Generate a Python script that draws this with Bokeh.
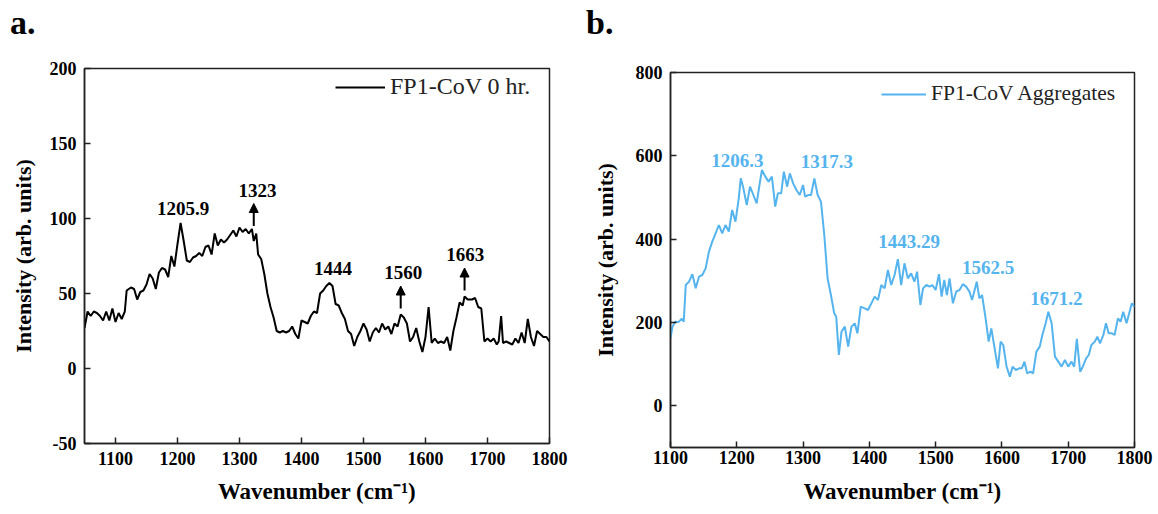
from bokeh.plotting import figure
from bokeh.models import Label, Arrow, NormalHead, FixedTicker, Range1d, Div
from bokeh.layouts import row, column
from bokeh.embed import file_html
from bokeh.resources import INLINE

# ---------------- data: panel a (FP1-CoV 0 hr.) ----------------
wn_a = [1050, 1055, 1060, 1065, 1070, 1075, 1080, 1085, 1090, 1095, 1100, 1105, 1110, 1115,
        1118, 1125, 1130, 1135, 1140, 1145, 1150, 1155, 1160, 1165, 1170, 1175, 1180, 1185,
        1190, 1195, 1200, 1205, 1210, 1215, 1220, 1225, 1230, 1235, 1240, 1245, 1250, 1255,
        1260, 1265, 1270, 1275, 1280, 1285, 1290, 1295, 1300, 1305, 1310, 1315, 1320, 1323,
        1327, 1330, 1335, 1340, 1345, 1350, 1355, 1360, 1365, 1370, 1375, 1380, 1385, 1390,
        1395, 1400, 1405, 1410, 1415, 1420, 1425, 1430, 1435, 1440, 1445, 1450, 1455, 1460,
        1465, 1470, 1475, 1480, 1485, 1490, 1495, 1500, 1505, 1510, 1515, 1520, 1525, 1530,
        1535, 1540, 1545, 1550, 1555, 1560, 1565, 1570, 1575, 1580, 1585, 1590, 1595, 1600,
        1605, 1610, 1615, 1620, 1625, 1630, 1635, 1640, 1645, 1650, 1655, 1660, 1663, 1668,
        1675, 1680, 1685, 1690, 1695, 1700, 1705, 1710, 1715, 1718, 1722, 1725, 1730, 1735,
        1740, 1745, 1750, 1755, 1760, 1765, 1770, 1775, 1780, 1785, 1790, 1795, 1800]
int_a = [27, 38, 35, 38, 37, 35, 32, 38, 32, 40, 31, 37, 33, 38,
         52, 54, 53, 46, 51, 52, 56, 63, 60, 53, 64, 67, 66, 61,
         75, 68, 83, 97, 85, 72, 71, 74, 75, 77, 75, 81, 82, 76,
         90, 82, 86, 84, 86, 89, 92, 88, 94, 91, 93, 90, 93, 85,
         90, 76, 73, 63, 50, 41, 34, 25, 24, 25, 24, 25, 28, 23,
         20, 32, 31, 30, 35, 38, 37, 50, 52, 55, 57, 55, 43, 42,
         37, 33, 25, 23, 15, 21, 25, 30, 26, 18, 24, 27, 24, 30,
         26, 28, 23, 30, 28, 36, 34, 30, 18, 21, 27, 18, 11, 21,
         41, 17, 20, 17, 18, 17, 21, 12, 25, 34, 44, 42, 48, 46,
         46, 47, 41, 40, 18, 20, 18, 20, 16, 18, 35, 17, 18, 17,
         16, 20, 17, 24, 17, 33, 21, 15, 25, 23, 21, 21, 18]

peaks_a = ["1205.9", "1323", "1444", "1560", "1663"]
peak_lx_a = [1209, 1329, 1451, 1564, 1664]
peak_ly_a = [107, 119, 67, 64, 76]
arrow_x_a = [1323, 1560, 1663]
arrow_y0_a = [95, 40, 52]
arrow_y1_a = [110, 55, 67]

# ---------------- data: panel b (FP1-CoV Aggregates) ----------------
wn_b = [1100, 1103, 1107, 1112, 1117, 1120, 1123, 1128, 1133, 1138, 1143, 1148, 1153, 1158,
        1163, 1168, 1173, 1178, 1183, 1188, 1193, 1198, 1203, 1206, 1210, 1215, 1220, 1225,
        1230, 1235, 1238, 1243, 1248, 1253, 1258, 1262, 1267, 1271, 1276, 1280, 1285, 1290,
        1295, 1300, 1303, 1308, 1312, 1317, 1322, 1327, 1332, 1337, 1342, 1347, 1350, 1354,
        1358, 1363, 1368, 1373, 1378, 1382, 1387, 1393, 1398, 1403, 1408, 1413, 1418, 1423,
        1428, 1433, 1438, 1443, 1448, 1453, 1458, 1463, 1468, 1472, 1477, 1481, 1486, 1491,
        1495, 1500, 1505, 1509, 1513, 1517, 1521, 1526, 1531, 1536, 1541, 1546, 1551, 1555,
        1562, 1566, 1570, 1575, 1580, 1584, 1589, 1594, 1598, 1602, 1607, 1612, 1616, 1621,
        1626, 1630, 1634, 1638, 1643, 1647, 1652, 1657, 1661, 1666, 1670, 1675, 1680, 1685,
        1690, 1695, 1700, 1705, 1709, 1713, 1718, 1722, 1727, 1731, 1735, 1740, 1744, 1748,
        1753, 1757, 1761, 1766, 1770, 1775, 1779, 1783, 1788, 1792, 1796, 1800]
int_b = [162, 190, 202, 201, 209, 202, 290, 298, 316, 282, 310, 314, 330, 370,
         394, 414, 434, 414, 434, 418, 470, 442, 498, 546, 522, 482, 526, 506,
         486, 538, 566, 550, 538, 550, 478, 510, 510, 562, 526, 558, 534, 518,
         506, 530, 502, 506, 506, 546, 506, 490, 410, 306, 266, 222, 214, 122,
         178, 190, 142, 190, 198, 174, 238, 234, 230, 246, 262, 254, 290, 282,
         326, 290, 314, 352, 290, 342, 306, 318, 298, 322, 242, 282, 290, 286,
         290, 278, 316, 262, 302, 266, 306, 246, 274, 278, 292, 286, 274, 254,
         298, 258, 266, 214, 154, 186, 138, 90, 154, 146, 94, 70, 94, 86,
         90, 90, 106, 78, 82, 78, 130, 142, 170, 198, 226, 198, 118, 106,
         94, 110, 94, 106, 94, 161, 82, 94, 114, 122, 146, 154, 166, 150,
         170, 198, 174, 174, 170, 210, 202, 226, 198, 222, 246, 238]

peaks_b = ["1206.3", "1317.3", "1443.29", "1562.5", "1671.2"]
peak_lx_b = [1201, 1336, 1460, 1579, 1682]
peak_ly_b = [589, 586, 394, 332, 258]

FONT = "Liberation Serif"
BLUE = "#55B4EE"


def style(p, yticks, tick_so, label_so):
    p.outline_line_color = "#222222"
    p.outline_line_width = 1.5
    p.xgrid.visible = False
    p.ygrid.visible = False
    p.xaxis.ticker = FixedTicker(ticks=[1100, 1200, 1300, 1400, 1500, 1600, 1700, 1800])
    p.yaxis.ticker = FixedTicker(ticks=yticks)
    for ax in (p.xaxis[0], p.yaxis[0]):
        ax.axis_line_color = "#222222"
        ax.axis_line_width = 1.5
        ax.major_tick_in = 6
        ax.major_tick_out = 0
        ax.major_tick_line_color = "#222222"
        ax.major_tick_line_width = 1.5
        ax.minor_tick_line_color = None
        ax.major_label_text_font = FONT
        ax.major_label_text_font_style = "bold"
        ax.major_label_text_font_size = "18px"
        ax.major_label_text_color = "black"
        ax.axis_label_text_font = FONT
        ax.axis_label_text_font_style = "bold"
        ax.axis_label_text_color = "black"
    p.xaxis.axis_label_text_font_size = "23px"
    p.yaxis.axis_label_text_font_size = "22px"
    p.xaxis.major_label_standoff = tick_so
    p.xaxis.axis_label_standoff = label_so
    p.yaxis.major_label_standoff = 8
    p.yaxis.axis_label_standoff = 11
    p.xaxis.axis_label = "Wavenumber (cm\u207b\u00b9)"
    p.yaxis.axis_label = "Intensity (arb. units)"


def panel_tag(text, width, pad):
    return Div(text=text, width=width, height=40, margin=0,
               styles={"font-family": FONT, "font-size": "34px", "font-weight": "bold",
                       "line-height": "45px", "padding-left": pad, "color": "black"})


# ---------------- panel a ----------------
pa = figure(width=583, height=474, output_backend="svg", toolbar_location=None,
            x_range=Range1d(1050, 1800), y_range=Range1d(-50, 200),
            min_border_left=84, min_border_right=34, min_border_top=28, min_border_bottom=71)
style(pa, [-50, 0, 50, 100, 150, 200], 8, 11)
pa.yaxis.major_label_overrides = {-50: "-50"}
pa.line(wn_a, int_a, line_color="black", line_width=2, legend_label="FP1-CoV 0 hr.")
for t, lx, ly in zip(peaks_a, peak_lx_a, peak_ly_a):
    pa.add_layout(Label(x=lx, y=ly, text=t, text_font=FONT, text_font_style="bold",
                        text_font_size="19px", text_align="center", text_baseline="middle",
                        text_color="black"))
for ax_, y0, y1 in zip(arrow_x_a, arrow_y0_a, arrow_y1_a):
    pa.add_layout(Arrow(x_start=ax_, y_start=y0, x_end=ax_, y_end=y1, line_width=2,
                        line_color="black",
                        end=NormalHead(size=9, fill_color="black", line_color="black")))

# ---------------- panel b ----------------
pb = figure(width=573, height=474, output_backend="svg", toolbar_location=None,
            x_range=Range1d(1100, 1800), y_range=Range1d(-100, 800),
            min_border_left=87, min_border_right=22, min_border_top=32, min_border_bottom=67)
style(pb, [0, 200, 400, 600, 800], 3, 12)
pb.yaxis.axis_label_standoff = 15
pb.line(wn_b, int_b, line_color=BLUE, line_width=2, legend_label="FP1-CoV Aggregates")
for t, lx, ly in zip(peaks_b, peak_lx_b, peak_ly_b):
    pb.add_layout(Label(x=lx, y=ly, text=t, text_font=FONT, text_font_style="bold",
                        text_font_size="19px", text_align="center", text_baseline="middle",
                        text_color=BLUE))

for p, fs, loc, gw in ((pa, "24px", (251, 343), 50), (pb, "21.5px", (211, 341), 45)):
    lg = p.legend[0]
    lg.location = loc
    lg.border_line_alpha = 0
    lg.background_fill_alpha = 0
    lg.label_text_font = FONT
    lg.label_text_font_size = fs
    lg.label_text_color = "#222222"
    lg.glyph_width = gw
    lg.label_standoff = 5
    lg.margin = 0
    lg.padding = 0

layout = row(column(panel_tag("a.", 583, "10px"), pa),
             column(panel_tag("b.", 573, "3px"), pb))
open("out.html", "w").write(file_html(layout, INLINE))
